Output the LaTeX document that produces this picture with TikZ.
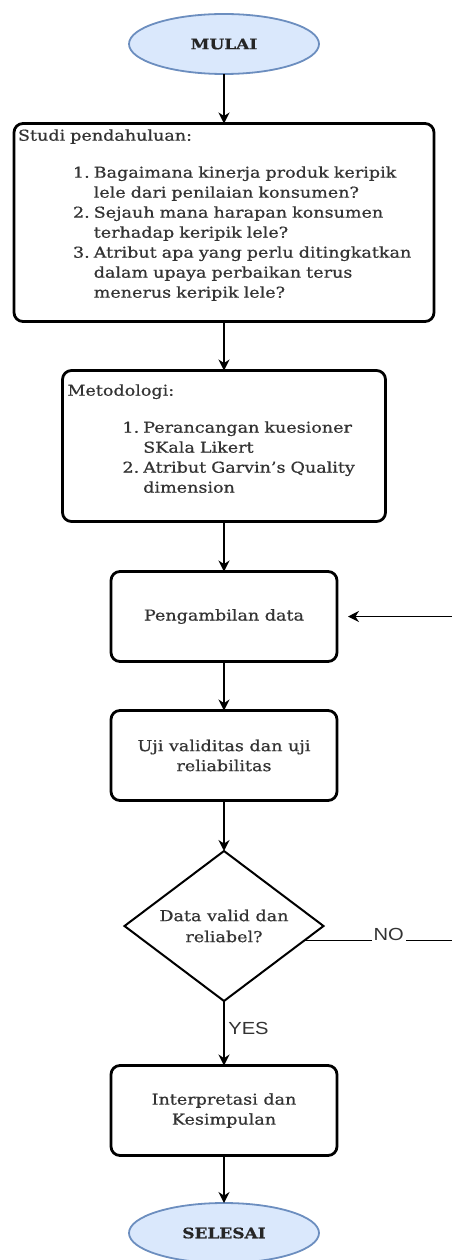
\documentclass[tikz,border=0pt]{standalone}
\usepackage{fontspec}
\setmainfont{DejaVu Serif}[FakeStretch=1.17, FakeBold=0.7]
\newfontfamily\labelfont{Liberation Sans}[FakeStretch=1.15]
\usepackage{tikz}
\usetikzlibrary{positioning,arrows.meta,shapes.geometric}
\definecolor{TermFill}{HTML}{DAE8FC}
\definecolor{TermLine}{HTML}{6C8EBF}
\definecolor{TextGray}{HTML}{333333}

\begin{document}
\begin{tikzpicture}[
x=1pt, y=-1pt,
node distance=49.5pt,
terminal/.style={ellipse, draw=TermLine, line width=1.8pt, fill=TermFill, outer sep=0pt, minimum width=190pt, minimum height=60pt, font=\fontsize{14.5}{20}\selectfont\bfseries, text=black!85},
box/.style={draw, line width=2.8pt, rounded corners=9pt, outer sep=0pt, text=TextGray, font=\fontsize{15}{20}\selectfont},
smallbox/.style={box, minimum width=226pt, minimum height=90pt, align=center},
decision/.style={diamond, draw, line width=2pt, shape aspect=1.3, outer sep=0pt, minimum width=199pt, minimum height=150pt, inner sep=0pt, align=center, text=TextGray, font=\fontsize{15}{21}\selectfont},
arrow/.style={-{Stealth[length=11pt, width=11pt]}, line width=2pt},
flowlabel/.style={font=\labelfont\fontsize{17.5}{20}\selectfont, text=TextGray}
]
\useasboundingbox (0,0) rectangle (452,1260);
\node[terminal] (mulai) at (224,44) {MULAI};
\node[box, below=of mulai, text width=412pt, inner xsep=4pt, inner ysep=4pt, minimum height=198pt, align=left] (studi) {Studi pendahuluan:\\[17pt]
\hspace*{55pt}\begin{tabular}[t]{@{}r@{\hspace{4pt}}l@{}}
1. & Bagaimana kinerja produk keripik\\
 & lele dari penilaian konsumen?\\
2. & Sejauh mana harapan konsumen\\
 & terhadap keripik lele?\\
3. & Atribut apa yang perlu ditingkatkan\\
 & dalam upaya perbaikan terus\\
 & menerus keripik lele?\\[12pt]
\end{tabular}};
\node[box, below=49pt of studi, text width=313pt, inner xsep=5pt, inner ysep=4pt, minimum height=151pt, align=left] (metode) {Metodologi:\\[17pt]
\hspace*{55pt}\begin{tabular}[t]{@{}r@{\hspace{4pt}}l@{}}
1. & Perancangan kuesioner\\
 & SKala Likert\\
2. & Atribut Garvin's Quality\\
 & dimension\\[9pt]
\end{tabular}};
\node[smallbox, below=50pt of metode] (ambil) {Pengambilan data};
\node[smallbox, below=49pt of ambil] (uji) {Uji validitas dan uji\\reliabilitas};
\node[decision, below=50.5pt of uji] (cek) {Data valid dan\\reliabel?};
\node[smallbox, below=64.5pt of cek] (hasil) {Interpretasi dan\\Kesimpulan};
\node[terminal, below=47.5pt of hasil] (selesai) {SELESAI};

\coordinate (tepi) at (452,0);
\coordinate (masuk) at (ambil.east -| tepi);
\coordinate (keluar) at (cek.-10 -| tepi);

\draw[arrow] (mulai) -- (studi);
\draw[arrow] (studi) -- (metode);
\draw[arrow] (metode) -- (ambil);
\draw[arrow] (ambil) -- (uji);
\draw[arrow] (uji) -- (cek);
\draw[arrow] (cek) -- node[flowlabel, right, pos=0.42] {YES} (hasil);
\draw[arrow] (hasil) -- (selesai);
\draw[line width=1.3pt] (cek.-10) -- node[flowlabel, fill=white, anchor=base, pos=0.57, inner xsep=2pt, inner ysep=2pt] {NO} (keluar);
\draw[arrow, line width=1.4pt, shorten >=11pt] (masuk) -- (ambil);
\end{tikzpicture}
\end{document}
